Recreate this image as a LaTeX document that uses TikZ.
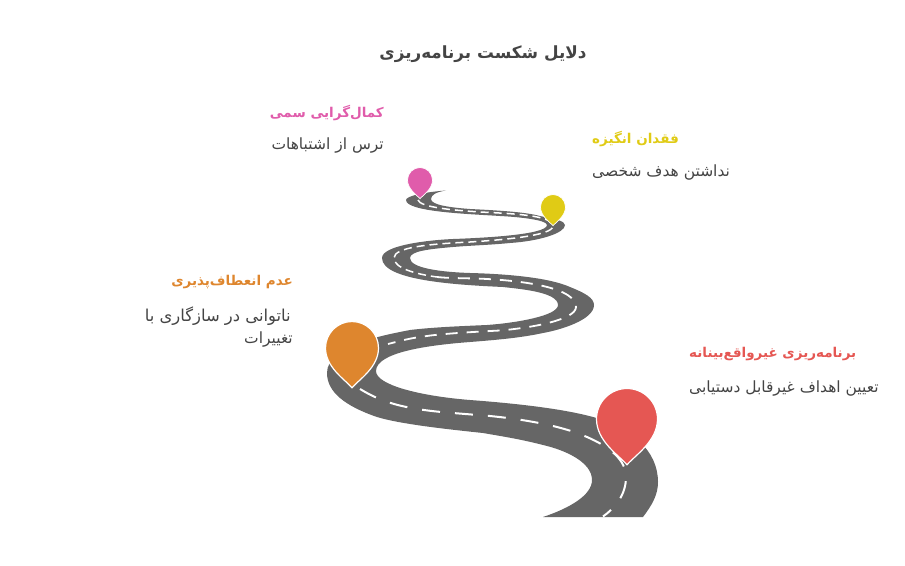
\documentclass[tikz,border=0pt]{standalone}
\usepackage{fontspec}
\setmainfont{DejaVu Sans}
\newfontfamily\arabicfont[Script=Arabic]{DejaVu Sans}
\TeXXeTstate=1
\definecolor{roadgray}{HTML}{666666}
\definecolor{inkgray}{HTML}{444444}
\definecolor{pinpink}{HTML}{E05CAB}
\definecolor{pinyellow}{HTML}{E0CB15}
\definecolor{pinorange}{HTML}{DE862E}
\definecolor{pinred}{HTML}{E55753}
\tikzset{
  headtext/.style={inner sep=0pt,font=\arabicfont\bfseries\fontsize{13.5}{16}\selectfont},
  bodytext/.style={inner sep=0pt,text=inkgray,font=\arabicfont\fontsize{15.5}{18}\selectfont},
  lane/.style={draw=white,line width=#1,line cap=butt},
}
\newcommand{\droppin}[5]{% x y r colour outline
  \fill[#4,draw=white,line width=#5,line join=miter,xshift=#1pt,yshift=-#2pt,x=#3pt,y=-#3pt]
    (0,1.5) .. controls (-0.28,1.18) and (-1,0.72) .. (-1,0)
    .. controls (-1,-0.552) and (-0.552,-1) .. (0,-1)
    .. controls (0.552,-1) and (1,-0.552) .. (1,0)
    .. controls (1,0.72) and (0.28,1.18) .. (0,1.5) -- cycle;}
\begin{document}
\begin{tikzpicture}[x=1pt,y=-1pt]
\useasboundingbox (0,0) rectangle (905,565);
\fill[roadgray]
  (446,190.5) .. controls (436,192) and (431,195) .. (431,199)
  .. controls (431,205) and (450,207.5) .. (470,209)
  .. controls (500,210.5) and (525,212) .. (540,216)
  .. controls (555,219) and (565,221) .. (565,225)
  .. controls (565,233) and (540,241) .. (510,243)
  .. controls (490,245) and (470,245.5) .. (453,247)
  .. controls (430,249) and (410,251) .. (410,258)
  .. controls (410,268) and (440,272) .. (470,273)
  .. controls (510,274) and (550,278) .. (570,287)
  .. controls (585,293) and (594,298) .. (594,305)
  .. controls (594,320) and (560,330) .. (543,333)
  .. controls (520,338) and (495,340) .. (470,342)
  .. controls (430,345) and (376,352) .. (376,371)
  .. controls (376,385) and (420,396) .. (470,400)
  .. controls (510,403) and (560,408) .. (593,417)
  .. controls (630,427) and (658,450) .. (658,482)
  .. controls (658,495) and (652,505) .. (643,517)
  -- (543,517)
  .. controls (570,508) and (592,495) .. (592,480)
  .. controls (592,462) and (565,450) .. (543,445)
  .. controls (520,439) and (500,436) .. (483,433)
  .. controls (445,429) and (400,424) .. (377,417)
  .. controls (345,406) and (327,392) .. (327,373)
  .. controls (327,345) and (385,335) .. (410,330)
  .. controls (435,327) and (465,326) .. (487,325)
  .. controls (515,323) and (558,316) .. (558,305)
  .. controls (558,292) and (520,289) .. (503,287)
  .. controls (460,285) and (382,281) .. (382,258)
  .. controls (382,245) and (430,240) .. (453,239)
  .. controls (480,238) and (547,235) .. (547,225)
  .. controls (547,220) and (520,217) .. (500,216)
  .. controls (470,214) and (406,212) .. (406,200)
  .. controls (406,196) and (425,192) .. (446,190.5) -- cycle;
\draw[lane=1.5,dash pattern=on 8pt off 5pt]
  (418,200) .. controls (420,207) and (450,210) .. (480,212)
  .. controls (510,213.5) and (553,215) .. (553,226)
  .. controls (553,236) and (500,240) .. (470,242)
  .. controls (430,244) and (394,247) .. (394,258)
  .. controls (394,268) and (415,274) .. (437,277);
\draw[lane=1.8,dash pattern=on 12pt off 9pt]
  (437,277) .. controls (450,278.5) and (470,278) .. (487,279)
  .. controls (525,281) and (576,288) .. (576,307)
  .. controls (576,320) and (530,328) .. (500,330.5)
  .. controls (470,332) and (440,334) .. (427,336)
  .. controls (410,338) and (400,341) .. (388,344);
\draw[lane=2,dash pattern=on 18pt off 15pt]
  (360,389) .. controls (380,401) and (400,409) .. (453,413)
  .. controls (465,414) and (478,415) .. (490,416)
  .. controls (520,419) and (560,425) .. (587,437)
  .. controls (610,447) and (626,460) .. (626,477)
  .. controls (626,495) and (615,508) .. (603,516.5);
\droppin{420}{180}{12.5}{pinpink}{0.7}
\droppin{553}{207}{12.5}{pinyellow}{0.7}
\droppin{352}{348}{26.5}{pinorange}{1.2}
\droppin{627}{419}{30.5}{pinred}{1.2}
\node[inner sep=0pt,text=inkgray,font=\arabicfont\bfseries\fontsize{16.8}{20}\selectfont] (title) at (483,54) {\beginR دلایل شکست برنامه‌ریزی\endR};
\node[headtext,text=pinpink,anchor=east] (pinkhead) at (384,113) {\beginR کمال‌گرایی سمی\endR};
\node[bodytext,anchor=east] (pinkbody) at (384,146) {\beginR ترس از اشتباهات\endR};
\node[headtext,text=pinyellow,anchor=west] (yellowhead) at (592,139) {\beginR فقدان انگیزه\endR};
\node[bodytext,anchor=west] (yellowbody) at (592,173) {\beginR نداشتن هدف شخصی\endR};
\node[headtext,text=pinorange,anchor=east] (orangehead) at (293,282) {\beginR عدم انعطاف‌پذیری\endR};
\node[bodytext,anchor=east,font=\arabicfont\fontsize{16.4}{18}\selectfont] (orangebodya) at (291,316) {\beginR ناتوانی در سازگاری با\endR};
\node[bodytext,anchor=east] (orangebodyb) at (293,339) {\beginR تغییرات\endR};
\node[headtext,text=pinred,anchor=west] (redhead) at (689,354) {\beginR برنامه‌ریزی غیرواقع‌بینانه\endR};
\node[bodytext,anchor=west] (redbody) at (689,388) {\beginR تعیین اهداف غیرقابل دستیابی\endR};
\end{tikzpicture}
\end{document}
